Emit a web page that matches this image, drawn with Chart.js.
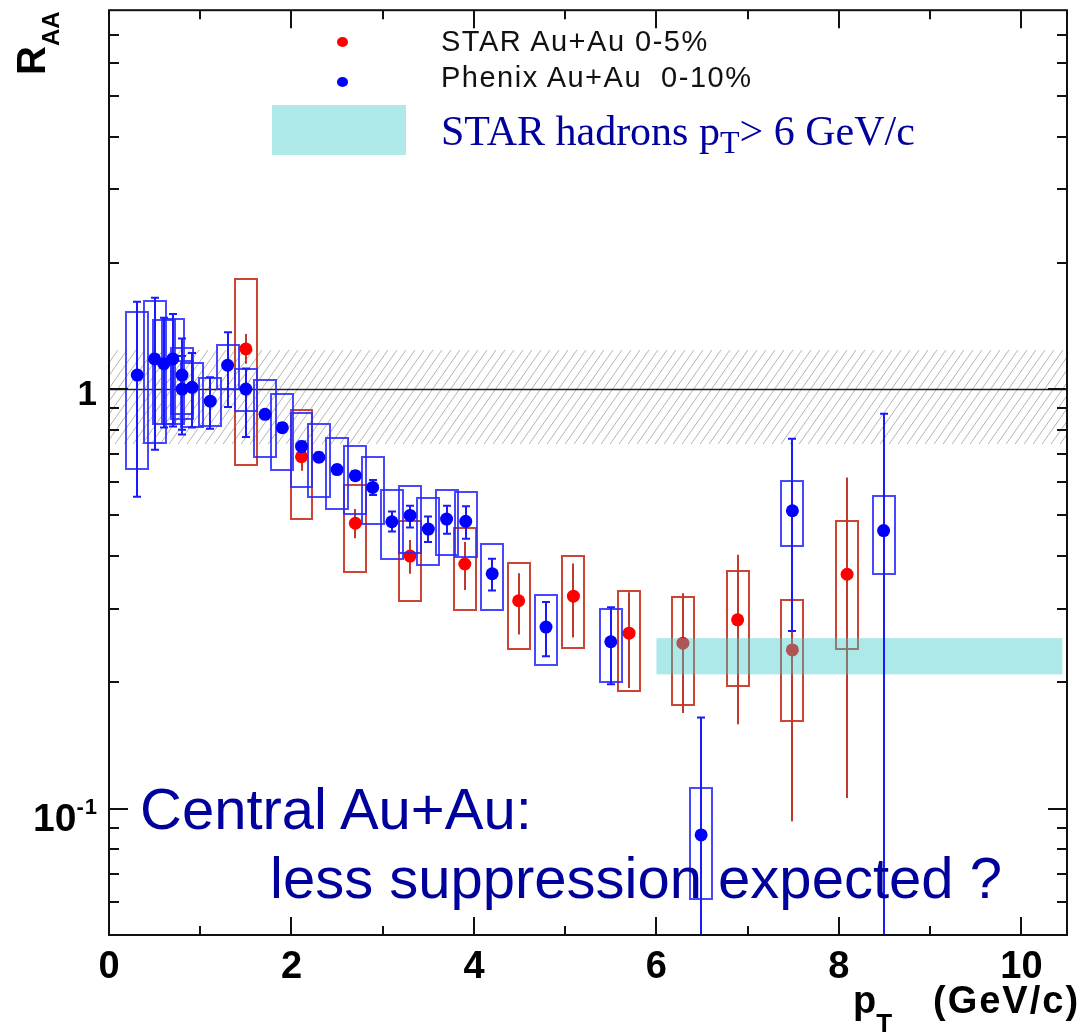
<!DOCTYPE html>
<html>
<head>
<meta charset="utf-8">
<script src="https://cdn.jsdelivr.net/npm/chart.js@4.4.0/dist/chart.umd.min.js"></script>
<style>
    html, body { margin: 0; padding: 0; background: #fff; }
    #wrap { position: relative; width: 1088px; height: 1033px; overflow: hidden; }
    #wrap canvas { position: absolute; left: 0; top: 0; }
    .txt { position: absolute; white-space: pre; line-height: 1; font-family: "Liberation Sans", Arial, Helvetica, sans-serif; }
    .bold { font-weight: bold; color: #000; }
    .navy { color: #00009c; }
    .dot { position: absolute; width: 11px; height: 10px; border-radius: 50%; }
</style>
</head>
<body>
<div id="wrap">
    <canvas id="raaChart" width="1088" height="1033"></canvas>

    <!-- legend -->
    <div class="dot" style="left:337px; top:37px; background:#ff0000;"></div>
    <div class="dot" style="left:337px; top:77px; background:#0000ff;"></div>
    <div class="txt" style="left:441px; top:27px; font-size:29px; letter-spacing:1.5px; color:#111;">STAR Au+Au 0-5%</div>
    <div class="txt" style="left:441px; top:63px; font-size:29px; letter-spacing:1.5px; color:#111;">Phenix Au+Au  0-10%</div>
    <div style="position:absolute; left:272px; top:105px; width:134px; height:50px; background:#aeeaea;"></div>
    <div class="txt navy" style="left:441px; top:110px; font-size:42px; font-family:'Liberation Serif','Times New Roman',serif;">STAR hadrons p<span style="font-size:32px; position:relative; top:8px;">T</span>&gt; 6 GeV/c</div>

    <!-- annotation -->
    <div class="txt navy" style="left:140px; top:780px; font-size:58px;">Central Au+Au:</div>
    <div class="txt navy" style="left:270px; top:849px; font-size:58px;">less suppression expected ?</div>

    <!-- axis titles -->
    <div class="txt bold" style="left:11px; top:75px; font-size:40px; transform-origin:0 0; transform:rotate(-90deg);">R<span style="font-size:24px; position:relative; top:14px;">AA</span></div>
    <div class="txt bold" style="left:853px; top:981px; font-size:38px;">p<span style="font-size:26px; position:relative; top:19px;">T</span></div>
    <div class="txt bold" style="left:933px; top:981px; font-size:38px; letter-spacing:2px;">(GeV/c)</div>

    <!-- y tick labels, placed from the scale below -->
    <div class="txt bold" id="yLab1" style="right:991px; font-size:35px;">1</div>
    <div class="txt bold" id="yLab01" style="right:990px; font-size:39px;">10<span style="font-size:22px; position:relative; top:-17px; letter-spacing:1px;">-1</span></div>
</div>

<script>
// PHENIX Au+Au 0-10%
var phenixPt     = [0.31, 0.50, 0.60, 0.70, 0.80, 0.80, 0.91, 1.11, 1.30, 1.50, 1.71, 1.90, 2.11, 2.30, 2.50, 2.70, 2.89, 3.10, 3.30, 3.50, 3.70, 3.91, 4.20, 4.79, 5.50, 6.49, 7.49, 8.49];
var phenixRaa    = [1.08, 1.18, 1.15, 1.18, 1.08, 1.00, 1.01, 0.936, 1.14, 1.00, 0.871, 0.809, 0.73, 0.688, 0.643, 0.622, 0.583, 0.483, 0.50, 0.464, 0.49, 0.484, 0.363, 0.271, 0.25, 0.0866, 0.513, 0.46];
var phenixStatLo = [0.554, 0.717, 0.81, 0.815, 0.78, 0.80, 0.81, 0.805, 0.906, 0.769, 0.85, 0.79, 0.71, 0.672, 0.628, 0.607, 0.559, 0.458, 0.468, 0.432, 0.452, 0.44, 0.331, 0.231, 0.198, 0.03, 0.265, 0.03];
var phenixStatHi = [1.615, 1.651, 1.48, 1.51, 1.32, 1.20, 1.22, 1.068, 1.366, 1.12, 0.89, 0.83, 0.75, 0.705, 0.658, 0.637, 0.607, 0.511, 0.527, 0.497, 0.527, 0.526, 0.394, 0.311, 0.302, 0.165, 0.762, 0.874];
var phenixSysLo  = [0.646, 0.743, 0.824, 0.824, 0.871, 0.85, 0.814, 0.817, 1.00, 0.887, 0.69, 0.642, 0.585, 0.554, 0.518, 0.504, 0.477, 0.394, 0.406, 0.380, 0.402, 0.398, 0.297, 0.22, 0.200, 0.0609, 0.422, 0.362];
var phenixSysHi  = [1.524, 1.618, 1.464, 1.47, 1.25, 1.17, 1.155, 1.06, 1.277, 1.117, 1.054, 0.971, 0.875, 0.824, 0.766, 0.733, 0.689, 0.575, 0.589, 0.549, 0.576, 0.57, 0.427, 0.323, 0.300, 0.112, 0.605, 0.557];

// STAR Au+Au 0-5%
var starPt     = [1.50, 2.11, 2.70, 3.30, 3.90, 4.49, 5.09, 5.70, 6.29, 6.89, 7.49, 8.09];
var starRaa    = [1.247, 0.69, 0.479, 0.40, 0.383, 0.313, 0.321, 0.262, 0.248, 0.282, 0.239, 0.362];
var starStatLo = [1.15, 0.639, 0.441, 0.363, 0.332, 0.26, 0.256, 0.194, 0.169, 0.159, 0.0933, 0.106];
var starStatHi = [1.353, 0.746, 0.518, 0.437, 0.432, 0.364, 0.384, 0.328, 0.326, 0.403, 0.384, 0.616];
var starSysLo  = [0.659, 0.49, 0.366, 0.313, 0.298, 0.24, 0.241, 0.191, 0.177, 0.196, 0.162, 0.24];
var starSysHi  = [1.835, 0.89, 0.592, 0.486, 0.466, 0.385, 0.401, 0.331, 0.32, 0.368, 0.315, 0.484];

// STAR hadrons pT > 6 GeV/c band, and the normalisation band round unity
var hadronBandPt  = [6.0, 10.45];
var hadronBandRaa = [0.209, 0.255];
var normBandPt    = [0, 10.5];
var normBandRaa   = [0.74, 1.24];
var unityRaa      = 1;

// axes
var xRange      = [0, 10.5];
var yRange      = [0.05, 8];
var xLabelTicks = [0, 2, 4, 6, 8, 10];
var xMinorTicks = [1, 3, 5, 7, 9];
var yMajorTicks = [0.1, 1];
var yMinorTicks = [0.06, 0.07, 0.08, 0.09, 0.2, 0.3, 0.4, 0.5, 0.6, 0.7, 0.8, 0.9, 2, 3, 4, 5, 6, 7];

var BOX_HALF = 0.12;

function toPoints(xs, ys) {
    return xs.map(function (x, i) { return { x: x, y: ys[i] }; });
}

function clipToArea(chart) {
    var a = chart.chartArea;
    chart.ctx.beginPath();
    chart.ctx.rect(a.left, a.top, a.right - a.left, a.bottom - a.top);
    chart.ctx.clip();
}

function drawErrors(chart, pt, lo, hi, sLo, sHi, st) {
    var ctx = chart.ctx, xs = chart.scales.x, ys = chart.scales.y;
    ctx.save();
    clipToArea(chart);
    ctx.lineWidth = 2;
    // systematic boxes
    ctx.strokeStyle = st.box;
    for (var i = 0; i < pt.length; i++) {
        var l = Math.round(xs.getPixelForValue(pt[i] - BOX_HALF));
        var r = Math.round(xs.getPixelForValue(pt[i] + BOX_HALF));
        var t = Math.round(ys.getPixelForValue(sHi[i]));
        var b = Math.round(ys.getPixelForValue(sLo[i]));
        ctx.strokeRect(l, t, r - l, b - t);
    }
    // statistical bars
    ctx.strokeStyle = st.err;
    ctx.beginPath();
    for (var j = 0; j < pt.length; j++) {
        var px = Math.round(xs.getPixelForValue(pt[j]));
        var top = ys.getPixelForValue(hi[j]);
        var bot = ys.getPixelForValue(lo[j]);
        ctx.moveTo(px, top);
        ctx.lineTo(px, bot);
        if (st.cap) {
            ctx.moveTo(px - st.cap, top); ctx.lineTo(px + st.cap, top);
            ctx.moveTo(px - st.cap, bot); ctx.lineTo(px + st.cap, bot);
        }
    }
    ctx.stroke();
    ctx.restore();
}

var raaPlugin = {
    id: 'raaDecor',
    beforeDatasetsDraw: function (chart) {
        var ctx = chart.ctx, xs = chart.scales.x, ys = chart.scales.y, a = chart.chartArea;
        // hatched normalisation band
        var x0 = xs.getPixelForValue(normBandPt[0]), x1 = xs.getPixelForValue(normBandPt[1]);
        var yT = ys.getPixelForValue(normBandRaa[1]), yB = ys.getPixelForValue(normBandRaa[0]);
        ctx.save();
        ctx.beginPath();
        ctx.rect(x0, yT, x1 - x0, yB - yT);
        ctx.clip();
        ctx.strokeStyle = '#b4b4b4';
        ctx.lineWidth = 1;
        var run = (yB - yT) * 0.7;
        ctx.beginPath();
        for (var sx = x0 - run; sx < x1; sx += 9) {
            ctx.moveTo(sx, yB);
            ctx.lineTo(sx + run, yT);
        }
        ctx.stroke();
        ctx.restore();
        // line at unity
        var y1 = Math.round(ys.getPixelForValue(unityRaa)) + 0.5;
        ctx.save();
        ctx.strokeStyle = '#222';
        ctx.lineWidth = 1.5;
        ctx.beginPath();
        ctx.moveTo(a.left, y1);
        ctx.lineTo(a.right, y1);
        ctx.stroke();
        ctx.restore();
    },
    beforeDatasetDraw: function (chart, args) {
        if (args.index === 0) {
            drawErrors(chart, phenixPt, phenixStatLo, phenixStatHi, phenixSysLo, phenixSysHi,
                { box: 'rgba(40,40,255,0.85)', err: '#1a1aff', cap: 4 });
        } else {
            drawErrors(chart, starPt, starStatLo, starStatHi, starSysLo, starSysHi,
                { box: '#cc4433', err: '#c0392b', cap: 0 });
        }
    },
    afterDatasetDraw: function (chart, args) {
        if (args.index !== 1) return;
        // STAR hadron band sits over the STAR points, under the PHENIX ones
        var ctx = chart.ctx, xs = chart.scales.x, ys = chart.scales.y;
        var x0 = xs.getPixelForValue(hadronBandPt[0]), x1 = xs.getPixelForValue(hadronBandPt[1]);
        var yT = ys.getPixelForValue(hadronBandRaa[1]), yB = ys.getPixelForValue(hadronBandRaa[0]);
        ctx.save();
        ctx.fillStyle = 'rgba(62,202,202,0.42)';
        ctx.fillRect(x0, yT, x1 - x0, yB - yT);
        ctx.restore();
    },
    afterDraw: function (chart) {
        var ctx = chart.ctx, xs = chart.scales.x, ys = chart.scales.y, a = chart.chartArea;
        ctx.save();
        ctx.strokeStyle = '#111';
        ctx.lineWidth = 2;
        ctx.strokeRect(a.left, a.top, a.right - a.left, a.bottom - a.top);
        ctx.beginPath();
        function xTick(v, len) {
            var px = Math.round(xs.getPixelForValue(v));
            ctx.moveTo(px, a.bottom); ctx.lineTo(px, a.bottom - len);
            ctx.moveTo(px, a.top); ctx.lineTo(px, a.top + len);
        }
        function yTick(v, len) {
            var py = Math.round(ys.getPixelForValue(v));
            ctx.moveTo(a.left, py); ctx.lineTo(a.left + len, py);
            ctx.moveTo(a.right, py); ctx.lineTo(a.right - len, py);
        }
        xLabelTicks.forEach(function (v) { xTick(v, 18); });
        xMinorTicks.forEach(function (v) { xTick(v, 9); });
        yMajorTicks.forEach(function (v) { yTick(v, 19); });
        yMinorTicks.forEach(function (v) { yTick(v, 10); });
        ctx.stroke();
        ctx.restore();
    }
};

var ctxRaa = document.getElementById('raaChart').getContext('2d');
var raaChart = new Chart(ctxRaa, {
    type: 'scatter',
    plugins: [raaPlugin],
    data: {
        datasets: [{
            label: 'Phenix Au+Au  0-10%',
            data: toPoints(phenixPt, phenixRaa),
            pointRadius: 6.5,
            pointBackgroundColor: '#0000ff',
            pointBorderWidth: 0
        }, {
            label: 'STAR Au+Au 0-5%',
            data: toPoints(starPt, starRaa),
            pointRadius: 6.5,
            pointBackgroundColor: '#ff0000',
            pointBorderWidth: 0
        }]
    },
    options: {
        responsive: false,
        animation: false,
        layout: { padding: { top: 6, right: 21, left: 0, bottom: 0 } },
        plugins: {
            legend: { display: false },
            tooltip: { enabled: false }
        },
        scales: {
            x: {
                type: 'linear',
                min: xRange[0],
                max: xRange[1],
                grid: { display: false },
                border: { display: false },
                afterBuildTicks: function (s) { s.ticks = xLabelTicks.map(function (v) { return { value: v }; }); },
                afterFit: function (s) { s.height = 98; },
                ticks: {
                    autoSkip: false,
                    maxRotation: 0,
                    padding: 2,
                    color: '#000',
                    font: { family: 'Liberation Sans, Arial, sans-serif', size: 38, weight: 'bold' }
                }
            },
            y: {
                type: 'logarithmic',
                min: yRange[0],
                max: yRange[1],
                grid: { display: false },
                border: { display: false },
                afterBuildTicks: function (s) { s.ticks = yMajorTicks.map(function (v) { return { value: v }; }); },
                afterFit: function (s) { s.width = 109; },
                ticks: { callback: function () { return ''; } }
            }
        }
    }
});

// y labels follow the scale
var yScale = raaChart.scales.y;
document.getElementById('yLab1').style.top = (yScale.getPixelForValue(1) + 15 - 29.6) + 'px';
document.getElementById('yLab01').style.top = (yScale.getPixelForValue(0.1) + 22 - 33) + 'px';
</script>
</body>
</html>
